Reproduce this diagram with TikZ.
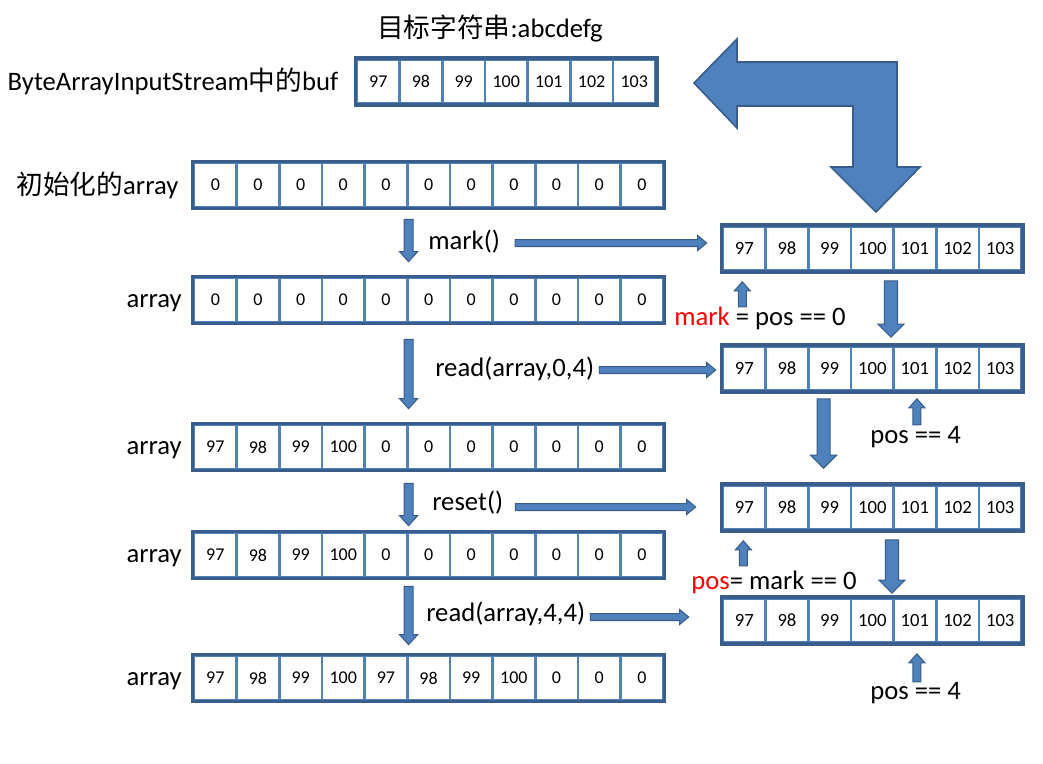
\documentclass[tikz,border=0pt]{standalone}
\usepackage{fontspec}
\setmainfont{Carlito}
\newfontfamily\cjkfont{Noto Sans CJK SC}
\usetikzlibrary{positioning,calc}
\definecolor{cellline}{HTML}{4F81BD}
\definecolor{frameline}{HTML}{3A5E8C}
\definecolor{arrowfill}{HTML}{4F81BD}
\definecolor{arrowedge}{HTML}{385D8A}

% one row of cells: style, name, left x, centre y, count, values
\newcommand{\cellrow}[6]{%
  \foreach \v [count=\i] in {#6}
    \node[#1] (#2-\i) at ({#3+(\i-0.5)*42.65}, #4) {\v};
  \draw[frame] (#2-1.north west) rectangle (#2-#5.south east);}

% block arrow from #1 to #2: half shaft, half head, head length
\newcommand{\blk}[5]{%
  \path[blkarrow] let \p1=#1, \p2=#2,
    \n1={atan2(\y2-\y1,\x2-\x1)}, \n2={veclen(\x2-\x1,\y2-\y1)} in
    [shift={(\p1)}, rotate=\n1]
    (0pt,#3) -- (\n2-#5,#3) -- (\n2-#5,#4) -- (\n2,0pt) -- (\n2-#5,-#4)
    -- (\n2-#5,-#3) -- (0pt,-#3) -- cycle;}
\newcommand{\thinarr}[2]{\blk{#1}{#2}{3.4pt}{6.75pt}{7.5pt}}
\newcommand{\sidearr}[2]{\blk{#1}{#2}{2.6pt}{5.6pt}{6.75pt}}
\newcommand{\uparr}[2]{\blk{#1}{#2}{3pt}{6pt}{6.75pt}}
\newcommand{\bigarr}[2]{\blk{#1}{#2}{4.9pt}{9.75pt}{9.75pt}}

\begin{document}
\begin{tikzpicture}[x=0.75pt, y=-0.75pt,
    cell/.style={draw=cellline, line width=2pt, minimum width=32pt,
      minimum height=33pt, inner sep=0pt, font=\fontsize{13.5}{15}\selectfont},
    rcell/.style={cell, font=\fontsize{14}{16}\selectfont},
    frame/.style={draw=frameline, line width=2.6pt},
    lbl/.style={inner sep=0pt, font=\fontsize{20}{23}\selectfont},
    arr/.style={lbl, yshift=-2pt},
    blkarrow/.style={draw=arrowedge, fill=arrowfill, line width=0.8pt}
  ]
    \fill[white] (0,0) rectangle (1043,764);

    % source buffer
    \cellrow{cell}{buf}{357}{81.5}{7}{97,98,99,100,101,102,103}
    \node[lbl] (title) at (490,28) {{\cjkfont 目标字符串}:abcdefg};
    \node[lbl, left=12.75pt of buf-1] (buflbl) {ByteArrayInputStream{\cjkfont 中的}buf};
    \path[blkarrow, line width=1.2pt] (694,83) -- (737,39) -- (737,62) -- (897,62)
      -- (897,167) -- (920,167) -- (876,212) -- (831,167) -- (853,167)
      -- (853,106) -- (737,106) -- (737,128) -- cycle;

    % array states
    \cellrow{cell}{ini}{194}{185}{11}{0,0,0,0,0,0,0,0,0,0,0}
    \cellrow{cell}{a1}{194}{300}{11}{0,0,0,0,0,0,0,0,0,0,0}
    \cellrow{cell}{a2}{194}{447}{11}{97,98,99,100,0,0,0,0,0,0,0}
    \cellrow{cell}{a3}{194}{555}{11}{97,98,99,100,0,0,0,0,0,0,0}
    \cellrow{cell}{a4}{194}{678}{11}{97,98,99,100,97,98,99,100,0,0,0}
    \node[lbl, left=10.5pt of ini-1] (inilbl) {{\cjkfont 初始化的}array};
    \node[arr, left=8pt of a1-1] (a1lbl) {array};
    \node[arr, left=8pt of a2-1] (a2lbl) {array};
    \node[arr, left=8pt of a3-1] (a3lbl) {array};
    \node[arr, left=8pt of a4-1] (a4lbl) {array};

    % stream states
    \cellrow{rcell}{r1}{723}{248.5}{7}{97,98,99,100,101,102,103}
    \cellrow{rcell}{r2}{723}{368.5}{7}{97,98,99,100,101,102,103}
    \cellrow{rcell}{r3}{723}{507.5}{7}{97,98,99,100,101,102,103}
    \cellrow{rcell}{r4}{723}{620.5}{7}{97,98,99,100,101,102,103}

    % calls
    \node[lbl, anchor=west] (markop) at (428,242) {mark()};
    \node[lbl, anchor=west] (read1op) at (435,369) {read(array,0,4)};
    \node[lbl, anchor=west] (resetop) at (432,503) {reset()};
    \node[lbl, anchor=west] (read2op) at (426,614) {read(array,4,4)};

    \node[lbl, anchor=west] (markeq) at (674,318) {\textcolor{red}{mark} = pos == 0};
    \node[lbl, anchor=west] (pos1) at (870,437) {pos == 4};
    \node[lbl, anchor=west] (poseq) at (691,582) {\textcolor{red}{pos}= mark == 0};
    \node[lbl, anchor=west] (pos2) at (870,693) {pos == 4};

    \thinarr{($(ini-5.south east)+(0,11)$)}{($(a1-5.north east)+(0,-15)$)}
    \thinarr{($(a1-5.south east)+(0,16)$)}{($(a2-5.north east)+(0,-15)$)}
    \thinarr{($(a2-5.south east)+(0,13)$)}{($(a3-5.north east)+(0,-6)$)}
    \thinarr{($(a3-5.south east)+(0,8)$)}{($(a4-5.north east)+(0,-10)$)}

    \sidearr{($(markop.east)+(15,1)$)}{($(markop.east -| r1-1.west)+(-15,1)$)}
    \sidearr{($(read1op.east)+(5,1)$)}{($(read1op.east -| r2-1.west)+(-6,1)$)}
    \sidearr{($(resetop.east)+(12,4)$)}{($(resetop.east -| r3-1.west)+(-26,4)$)}
    \sidearr{($(read2op.east)+(5,3)$)}{($(read2op.east -| r4-1.west)+(-33,3)$)}

    \bigarr{($(r1-4.south east)+(-4,9)$)}{($(r2-4.north east)+(-4,-8)$)}
    \bigarr{($(r2-3.south)+(-6,7)$)}{($(r3-3.north)+(-6,-16)$)}
    \bigarr{($(r3-4.south east)+(-3,9)$)}{($(r4-4.north east)+(-3,-4)$)}

    \uparr{($(r1-1.south)+(-2,35)$)}{($(r1-1.south)+(-2,10)$)}
    \uparr{($(r2-5.south)+(2,33)$)}{($(r2-5.south)+(2,7)$)}
    \uparr{($(r3-1.south)+(-1,35)$)}{($(r3-1.south)+(-1,10)$)}
    \uparr{($(r4-5.south)+(2,38)$)}{($(r4-5.south)+(2,10)$)}
  \end{tikzpicture}
\end{document}
